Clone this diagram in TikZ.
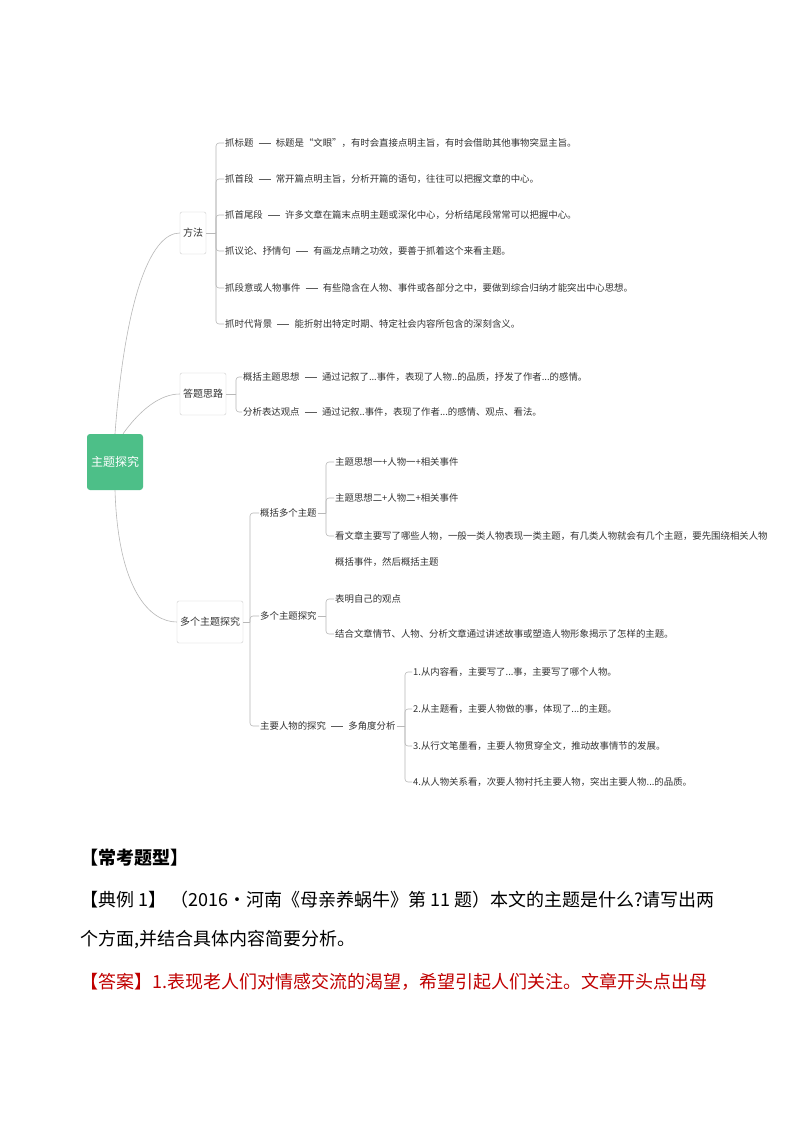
\documentclass[tikz,border=0pt]{standalone}
\usepackage{fontspec}
\setmainfont{Noto Sans CJK SC}
\usetikzlibrary{positioning}
\definecolor{ln}{HTML}{B8B8B8}
\definecolor{tx}{HTML}{333333}
\definecolor{rootg}{HTML}{4DBF88}
\definecolor{ansred}{HTML}{C00000}
\tikzset{
  lbl/.style={font=\fontsize{9.4}{12}\selectfont, text=tx, anchor=west, inner sep=1pt},
  desc/.style={lbl, right=20pt of #1},
  bx/.style={draw=ln!70, rounded corners=2pt, font=\fontsize{10}{12}\selectfont, text=tx, minimum height=42pt, inner sep=3pt},
  cn/.style={draw=ln, line width=0.6pt},
  dsh/.style={draw=tx!80, line width=0.6pt},
  br/.style={draw=ln, line width=0.6pt, rounded corners=3pt},
  big/.style={font=\fontsize{18}{22}\selectfont, anchor=west, inner sep=0pt}
}
\begin{document}
\begin{tikzpicture}[x=1pt,y=-1pt]
\useasboundingbox[fill=white] (0,0) rectangle (794,1123);
% root
\node[fill=rootg, rounded corners=3pt, minimum width=56pt, minimum height=56pt, text=white, font=\fontsize{12}{14}\selectfont, inner sep=0pt] (root) at (115,462) {主题探究};
% level 1
\node[bx] (ff) at (193,233) {方法};
\node[bx] (dt) at (203,394) {答题思路};
\node[bx] (dg) at (210,622) {多个主题探究};
\draw[cn] (root.north) .. controls (125,300) and (150,233) .. (ff.west);
\draw[cn] (root.north) ++(8,0) .. controls (140,410) and (160,394) .. (dt.west);
\draw[cn] (root.south) .. controls (118,590) and (150,622) .. (dg.west);
% 方法 children
\node[lbl] (m1) at (224,143) {抓标题};
\node[lbl] (m2) at (224,179) {抓首段};
\node[lbl] (m3) at (224,215) {抓首尾段};
\node[lbl] (m4) at (224,251) {抓议论、抒情句};
\node[lbl] (m5) at (224,288) {抓段意或人物事件};
\node[lbl] (m6) at (224,324) {抓时代背景};
\node[desc=m1] (d1) {标题是“文眼”，有时会直接点明主旨，有时会借助其他事物突显主旨。};
\node[desc=m2] (d2) {常开篇点明主旨，分析开篇的语句，往往可以把握文章的中心。};
\node[desc=m3] (d3) {许多文章在篇末点明主题或深化中心，分析结尾段常常可以把握中心。};
\node[desc=m4] (d4) {有画龙点睛之功效，要善于抓着这个来看主题。};
\node[desc=m5] (d5) {有些隐含在人物、事件或各部分之中，要做到综合归纳才能突出中心思想。};
\node[desc=m6] (d6) {能折射出特定时期、特定社会内容所包含的深刻含义。};
\foreach \i in {1,...,6} {\draw[dsh] ([xshift=4pt]m\i.east) -- ([xshift=-4pt]d\i.west);}
\draw[cn] (ff.east) -- (216,233);
\foreach \i in {1,...,6} {\draw[br] (216,233) |- (m\i.west);}
% 答题思路 children
\node[lbl] (a1) at (242,377) {概括主题思想};
\node[lbl] (a2) at (242,412) {分析表达观点};
\node[desc=a1] (e1) {通过记叙了...事件，表现了人物..的品质，抒发了作者...的感情。};
\node[desc=a2] (e2) {通过记叙..事件，表现了作者...的感情、观点、看法。};
\foreach \i in {1,2} {\draw[dsh] ([xshift=4pt]a\i.east) -- ([xshift=-4pt]e\i.west);}
\draw[cn] (dt.east) -- (236,394);
\foreach \i in {1,2} {\draw[br] (236,394) |- (a\i.west);}
% 多个主题探究 children
\node[lbl] (g1) at (259,513) {概括多个主题};
\node[lbl] (g2) at (259,616) {多个主题探究};
\node[lbl] (g3) at (259,726) {主要人物的探究};
\draw[cn] (dg.east) -- (250,622);
\foreach \i in {1,2,3} {\draw[br] (250,622) |- (g\i.west);}
% 概括多个主题
\node[lbl] (h1) at (334,462) {主题思想一+人物一+相关事件};
\node[lbl] (h2) at (334,498) {主题思想二+人物二+相关事件};
\node[lbl] (h3) at (334,536) {看文章主要写了哪些人物，一般一类人物表现一类主题，有几类人物就会有几个主题，要先围绕相关人物};
\node[lbl] (h3b) at (334,562) {概括事件，然后概括主题};
\draw[cn] (g1.east) -- (326,513);
\foreach \i in {1,2,3} {\draw[br] (326,513) |- (h\i.west);}
% 多个主题探究
\node[lbl] (k1) at (334,599) {表明自己的观点};
\node[lbl] (k2) at (334,634) {结合文章情节、人物、分析文章通过讲述故事或塑造人物形象揭示了怎样的主题。};
\draw[cn] (g2.east) -- (326,616);
\foreach \i in {1,2} {\draw[br] (326,616) |- (k\i.west);}
% 主要人物的探究
\node[desc=g3] (dj) {多角度分析};
\draw[dsh] ([xshift=4pt]g3.east) -- ([xshift=-4pt]dj.west);
\node[lbl] (p1) at (412,672) {1.从内容看，主要写了...事，主要写了哪个人物。};
\node[lbl] (p2) at (412,709) {2.从主题看，主要人物做的事，体现了...的主题。};
\node[lbl] (p3) at (412,746) {3.从行文笔墨看，主要人物贯穿全文，推动故事情节的发展。};
\node[lbl] (p4) at (412,782) {4.从人物关系看，次要人物衬托主要人物，突出主要人物...的品质。};
\draw[cn] (dj.east) -- (405,726);
\foreach \i in {1,...,4} {\draw[br] (405,726) |- (p\i.west);}
% bottom text
\node[big, font=\fontsize{18}{22}\selectfont\bfseries] (t0) at (80,858) {【常考题型】};
\node[big] (t1) at (80,900) {【典例 1】 （2016·河南《母亲养蜗牛》第 11 题）本文的主题是什么?请写出两};
\node[big] (t2) at (80,940) {个方面,并结合具体内容简要分析。};
\node[big, text=ansred] (t3) at (80,982) {【答案】1.表现老人们对情感交流的渴望，希望引起人们关注。文章开头点出母};
\end{tikzpicture}
\end{document}
